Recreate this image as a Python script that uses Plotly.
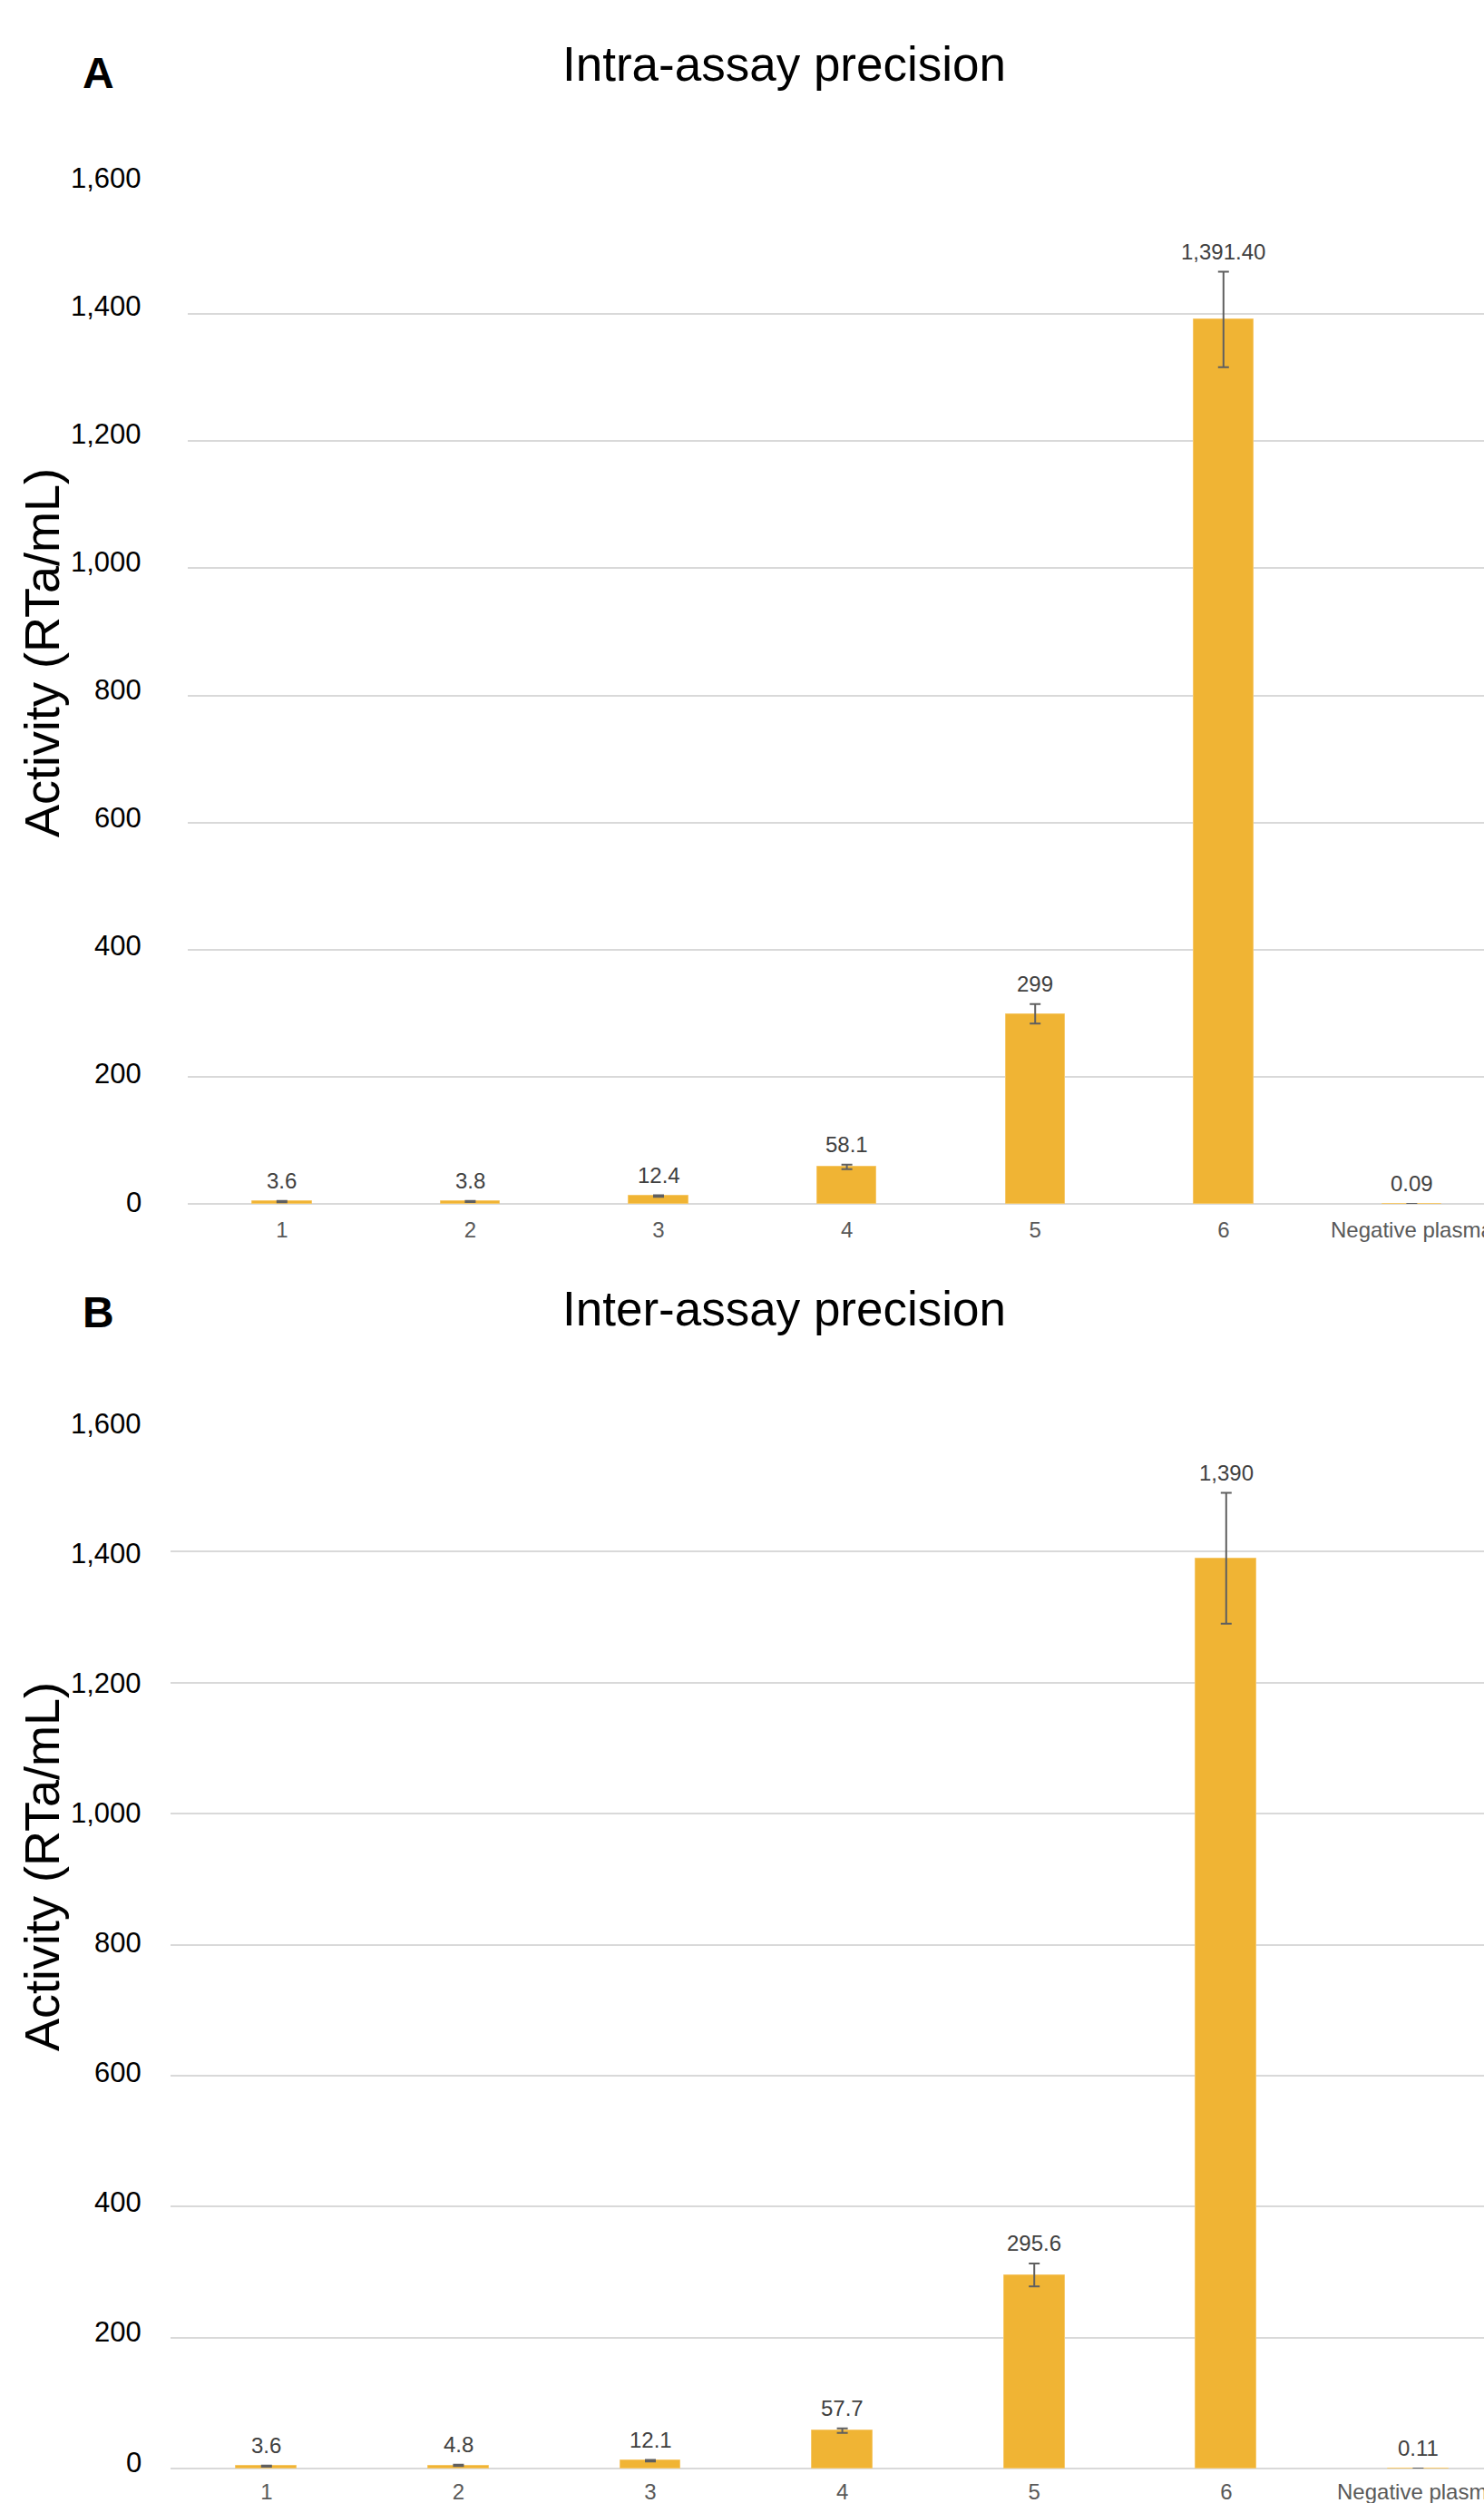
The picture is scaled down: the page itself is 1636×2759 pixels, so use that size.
import plotly.graph_objects as go

W, H = 1636, 2759

categories = ["1", "2", "3", "4", "5", "6", "Negative plasma"]

intra_values = [3.6, 3.8, 12.4, 58.1, 299, 1391.4, 0.09]
intra_errors = [1.0, 1.0, 1.2, 3.5, 15.4, 75.0, 0.0]
intra_labels = ["3.6", "3.8", "12.4", "58.1", "299", "1,391.40", "0.09"]

inter_values = [3.6, 4.8, 12.1, 57.7, 295.6, 1390, 0.11]
inter_errors = [1.0, 1.0, 1.2, 3.5, 17.5, 100.0, 0.0]
inter_labels = ["3.6", "4.8", "12.1", "57.7", "295.6", "1,390", "0.11"]

y_ticks = [0, 200, 400, 600, 800, 1000, 1200, 1400, 1600]
y_tick_labels = ["0", "200", "400", "600", "800", "1,000", "1,200", "1,400", "1,600"]

BAR = "#F0B434"
ERR = "#5F5F5F"
GRID = "#D9D9D9"
FONT = "Liberation Sans, Arial, sans-serif"


def px_x(p):
    return p / W


def px_y(p):
    return 1 - p / H


fig = go.Figure()

# label shift (px) at bottom / top tick, mimicking the original's slight drift
panels = [
    dict(vals=intra_values, errs=intra_errors, labs=intra_labels, xa="x", ya="y",
         shift0=2, shift1=10),
    dict(vals=inter_values, errs=inter_errors, labs=inter_labels, xa="x2", ya="y2",
         shift0=7, shift1=-3),
]

annotations = []
for p in panels:
    fig.add_trace(go.Bar(
        x=categories, y=p["vals"], xaxis=p["xa"], yaxis=p["ya"],
        width=0.315,
        marker=dict(color=BAR, line=dict(color="#F6C86A", width=1)),
        error_y=dict(type="data", array=p["errs"], visible=True,
                     color=ERR, thickness=2, width=6),
        showlegend=False, hoverinfo="skip",
    ))
    for i, (v, e, t) in enumerate(zip(p["vals"], p["errs"], p["labs"])):
        annotations.append(dict(
            x=i, y=v + e, xref=p["xa"], yref=p["ya"], text=t,
            showarrow=False, xanchor="center", yanchor="middle", yshift=22,
            font=dict(family=FONT, size=24, color="#404040"),
        ))
    top = max(y_ticks)
    for tv, tl in zip(y_ticks, y_tick_labels):
        ys = p["shift0"] + (p["shift1"] - p["shift0"]) * tv / top
        annotations.append(dict(
            x=px_x(158), y=tv, xref="paper", yref=p["ya"], text=tl,
            showarrow=False, xanchor="right", yanchor="middle", yshift=ys,
            font=dict(family=FONT, size=31, color="#000000"),
        ))

# geometry (pixels)
A_left, A_top, A_bot = 207, 206, 1327
B_left, B_top, B_bot = 188, 1566, 2721
A_cat = 207.6
B_cat = 211.6

xcommon = dict(
    type="category", showgrid=False, zeroline=False, showline=False, ticks="",
    tickfont=dict(family=FONT, size=24, color="#595959"),
    automargin=False,
)
ycommon = dict(
    range=[0, 1600], tickvals=y_ticks, showticklabels=False,
    showgrid=True, gridcolor=GRID, gridwidth=1.5,
    zeroline=True, zerolinecolor=GRID, zerolinewidth=1.5,
    showline=False, ticks="", automargin=False,
)

fig.update_layout(
    width=W, height=H,
    margin=dict(l=0, r=0, t=0, b=0, pad=0, autoexpand=False),
    paper_bgcolor="white", plot_bgcolor="white",
    font=dict(family=FONT),
    bargap=0,
    xaxis=dict(xcommon, domain=[px_x(A_left), 1], anchor="y",
               range=[-0.5, -0.5 + (W - A_left) / A_cat], ticklabelstandoff=12),
    yaxis=dict(ycommon, domain=[px_y(A_bot), px_y(A_top)], anchor="x"),
    xaxis2=dict(xcommon, domain=[px_x(B_left), 1], anchor="y2",
                range=[-0.5, -0.5 + (W - B_left) / B_cat], ticklabelstandoff=9),
    yaxis2=dict(ycommon, domain=[px_y(B_bot), px_y(B_top)], anchor="x2"),
)

texts = [
    dict(text="Intra-assay precision", x=px_x(865), y=px_y(70),
         font=dict(size=53, color="#000000")),
    dict(text="Inter-assay precision", x=px_x(865), y=px_y(1442),
         font=dict(size=53, color="#000000")),
    dict(text="<b>A</b>", x=px_x(108), y=px_y(80),
         font=dict(size=48, color="#000000")),
    dict(text="<b>B</b>", x=px_x(108), y=px_y(1446),
         font=dict(size=48, color="#000000")),
    dict(text="Activity (RTa/mL)", x=px_x(46), y=px_y(720), textangle=-90,
         font=dict(size=54, color="#000000")),
    dict(text="Activity (RTa/mL)", x=px_x(46), y=px_y(2058), textangle=-90,
         font=dict(size=54, color="#000000")),
]
for a in texts:
    a.update(xref="paper", yref="paper", xanchor="center", yanchor="middle",
             showarrow=False)
    a["font"]["family"] = FONT
    annotations.append(a)
fig.update_layout(annotations=annotations)

fig.write_html(
    "out.html",
    config={"displayModeBar": False},
    post_script="document.body.style.margin='0';document.body.style.overflow='hidden';",
)
